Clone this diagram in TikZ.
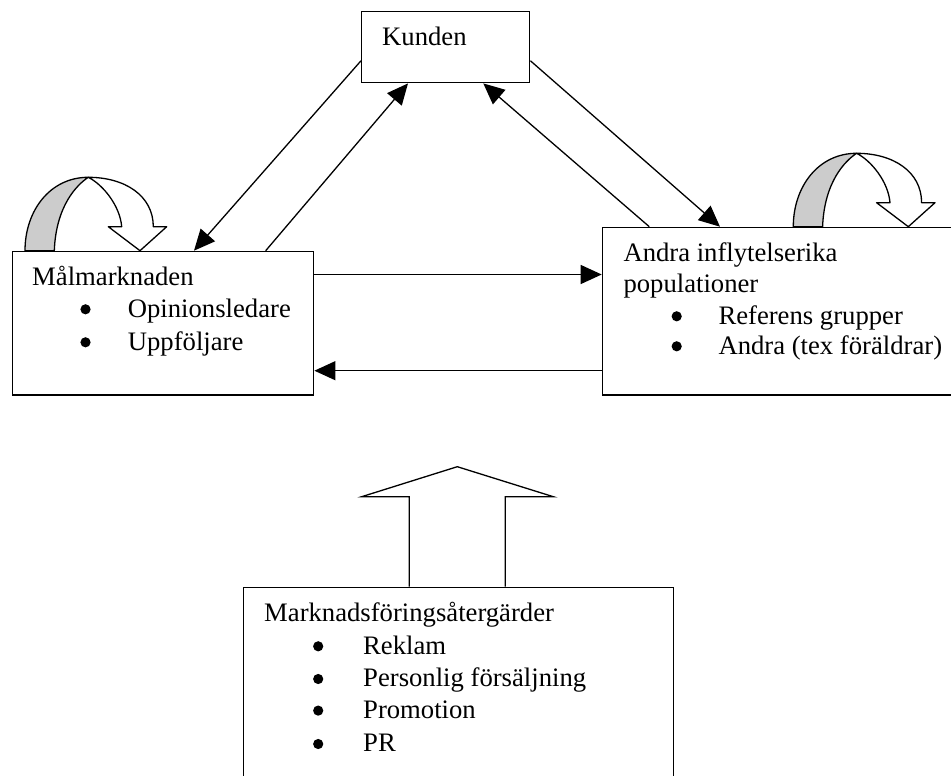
\documentclass[tikz,border=0pt]{standalone}
\usepackage{fontspec}
\setmainfont{Liberation Serif}
\usetikzlibrary{arrows.meta}
\begin{document}
\begin{tikzpicture}[x=1pt,y=-1pt,
  box/.style={draw, line width=1.4pt, inner sep=0pt, anchor=north west},
  lbl/.style={anchor=base west, inner sep=0pt, font=\fontsize{26.67}{32}\selectfont},
  link/.style={line width=1.3pt, -{Triangle[length=21pt,width=19pt]}},
  band/.style={line width=1.3pt, line join=round},
  turn arrow/.pic={
    % back face of the ribbon
    \filldraw[band, fill=gray!40] (0,0) .. controls (0,-40) and (25,-73.4) .. (63.3,-73.4)
      .. controls (52,-66) and (31,-45) .. (29.3,0) -- cycle;
    % front face with its head
    \filldraw[band, fill=white] (63.3,-73.4) .. controls (100,-73.4) and (128.3,-55) .. (128.3,-24)
      -- (141.7,-24) -- (115,0) -- (83.3,-24) -- (96.7,-24)
      .. controls (95,-45) and (78,-66) .. (63.3,-73.4) -- cycle;
  },
]
\useasboundingbox (0,0) rectangle (951,776);
\clip (0,0) rectangle (951,776);

% boxes
\node[box, minimum width=168pt, minimum height=71.3pt] (kunden) at (361,10.7) {};
\node[box, minimum width=301.3pt, minimum height=143.5pt] (mal) at (11.7,250.7) {};
\node[box, minimum width=360pt, minimum height=167.6pt] (andra) at (601.7,226.7) {};
\node[box, minimum width=430pt, minimum height=230pt] (atgard) at (243,586.7) {};

% texts; list items leave room for a round bullet drawn below
\node[lbl] (kundentxt) at (382,45.7) {Kunden};

\node[lbl] (maltxt) at (32,285) {Målmarknaden};
\node[lbl] (malA) at (80.3,317) {\hspace*{47.4pt}Opinionsledare};
\node[lbl] (malB) at (80.3,350) {\hspace*{47.4pt}Uppföljare};

\node[lbl] (andratxt) at (623.3,261.7) {Andra inflytelserika};
\node[lbl] (andratxtb) at (623.3,292) {populationer};
\node[lbl] (andraA) at (671.5,324) {\hspace*{46.8pt}Referens grupper};
\node[lbl] (andraB) at (671.5,354) {\hspace*{46.8pt}Andra (tex föräldrar)};

\node[lbl] (atgardtxt) at (264,621.7) {Marknadsföringsåtergärder};
\node[lbl] (atgA) at (313,654) {\hspace*{50pt}Reklam};
\node[lbl] (atgB) at (313,686.7) {\hspace*{50pt}Personlig försäljning};
\node[lbl] (atgC) at (313,718.3) {\hspace*{50pt}Promotion};
\node[lbl] (atgD) at (313,751.7) {\hspace*{50pt}PR};

% bullets
\foreach \item in {malA,malB,andraA,andraB,atgA,atgB,atgC,atgD}
  \fill ([xshift=5.2pt,yshift=7.7pt]\item.base west) circle (5.1pt);

% connectors
\draw[link] ([yshift=-13.7pt]kunden.west) -- ([xshift=182.3pt]mal.north west);
\draw[link] ([xshift=254pt]mal.north west) -- ([xshift=47pt]kunden.south west);
\draw[link] ([xshift=47.6pt]andra.north west) -- ([xshift=122.3pt]kunden.south west);
\draw[link] ([yshift=-13.7pt]kunden.east) -- ([xshift=118.3pt]andra.north west);
\draw[link] ([yshift=-23.8pt]mal.north east) -- ([yshift=-47.8pt]andra.north west);
\draw[link] ([yshift=-144pt]andra.north west) -- ([yshift=-120pt]mal.north east);

% self-influence ribbons
\pic at ([xshift=13.3pt]mal.north west) {turn arrow};
\pic at ([xshift=191.6pt]andra.north west) {turn arrow};

% block arrow from the marketing measures
\draw[line width=1.3pt, line join=miter, fill=white]
  (409.3,586.7) -- (409.3,496.7) -- (361.7,496.7) -- (457.3,466.7)
  -- (553.3,496.7) -- (505.3,496.7) -- (505.3,586.7);
\end{tikzpicture}
\end{document}
